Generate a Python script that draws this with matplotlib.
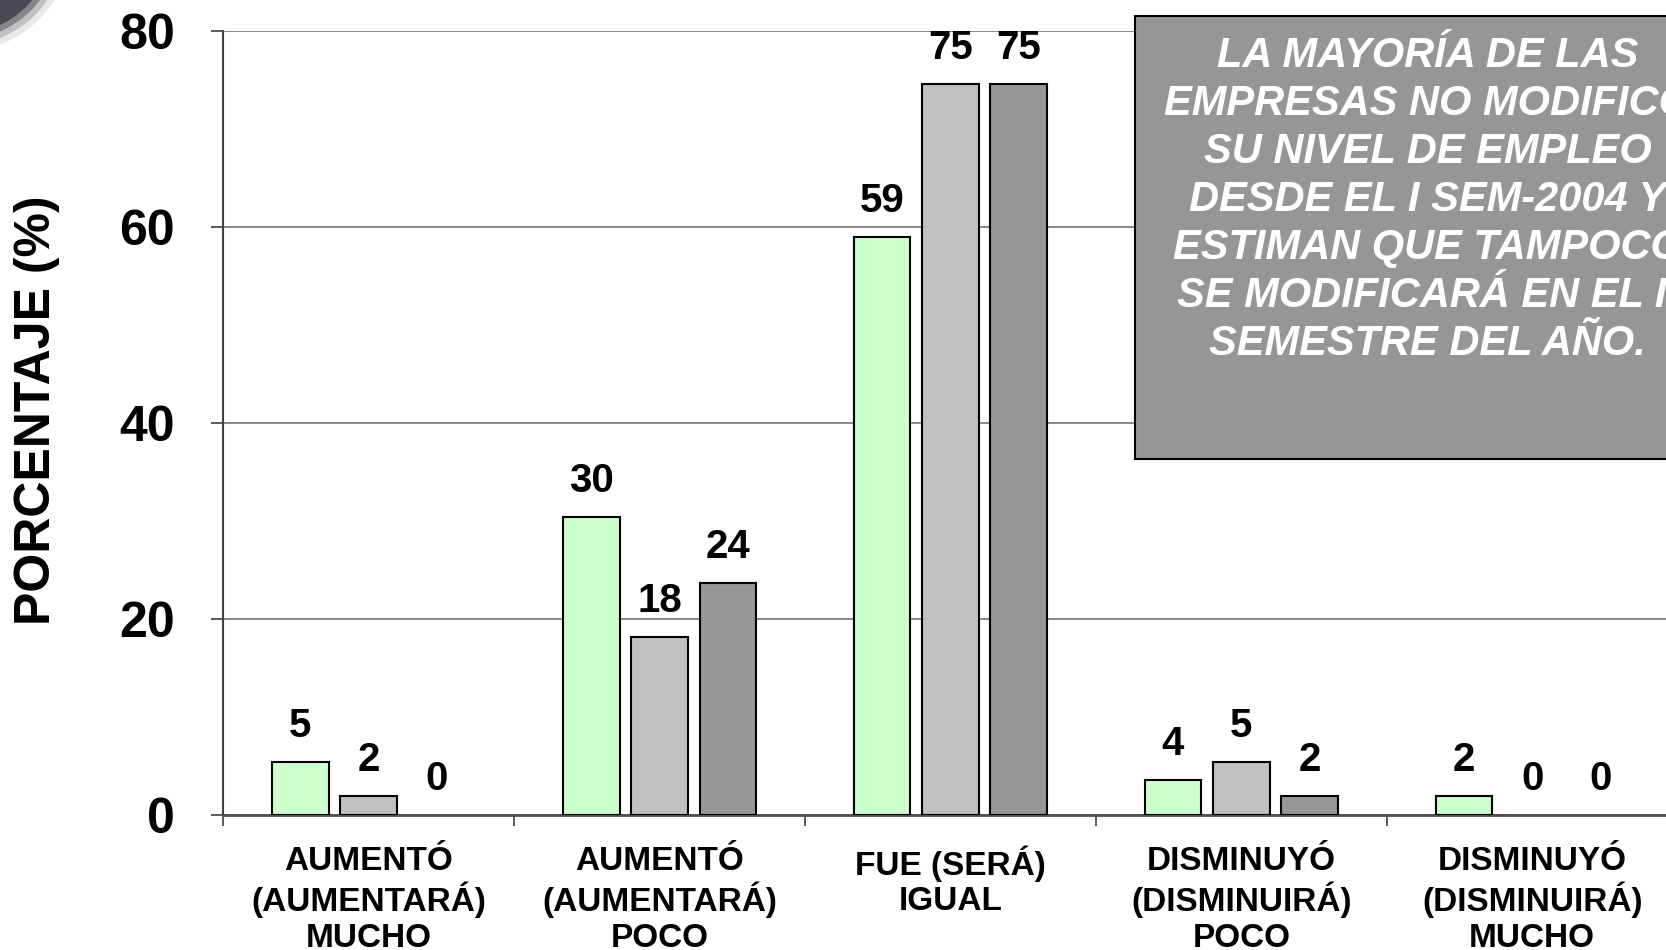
import matplotlib.pyplot as plt
import matplotlib.patches as mpatches
import numpy as np

plt.rcParams['font.family'] = ['Liberation Sans', 'DejaVu Sans']

categorias = ['AUMENTÓ\n(AUMENTARÁ)\nMUCHO', 'AUMENTÓ\n(AUMENTARÁ)\nPOCO', 'FUE (SERÁ)\nIGUAL',
              'DISMINUYÓ\n(DISMINUIRÁ)\nPOCO', 'DISMINUYÓ\n(DISMINUIRÁ)\nMUCHO']
serie_1 = [5.4, 30.4, 59.0, 3.6, 1.9]
serie_2 = [1.9, 18.2, 74.6, 5.4, 0.0]
serie_3 = [0.0, 23.7, 74.6, 1.9, 0.0]
colores = ['#CCFFCC', '#C0C0C0', '#969696']
nota = ('LA MAYORÍA DE LAS\nEMPRESAS NO MODIFICÓ\nSU NIVEL DE EMPLEO\n'
        'DESDE EL I SEM-2004 Y\nESTIMAN QUE TAMPOCO\nSE MODIFICARÁ EN EL II\nSEMESTRE DEL AÑO.')

fig = plt.figure(figsize=(16.66, 9.5), dpi=100)
ax = fig.add_axes([0.134, 0.142, 0.873, 0.825])

x = np.arange(len(categorias))
ancho = 0.195
paso = 0.235
for i, serie in enumerate([serie_1, serie_2, serie_3]):
    pos = x + (i - 1) * paso
    # las barras en cero no llevan borde
    bordes = [0 if v == 0 else 1.5 for v in serie]
    ax.bar(pos, serie, width=ancho, color=colores[i], edgecolor='black', linewidth=bordes, zorder=3)
    for xp, v in zip(pos, serie):
        ax.annotate(f'{v:.0f}', (xp, v), xytext=(0, 18), textcoords='offset points',
                    ha='center', va='baseline', fontsize=29, fontweight='bold', zorder=4)

ax.set_xlim(-0.5, 4.5)
ax.set_ylim(0, 80)
ax.set_yticks([0, 20, 40, 60, 80])
ax.tick_params(axis='y', labelsize=36, length=9, width=1.2, pad=26, color='#404040')
for t in ax.get_yticklabels():
    t.set_fontweight('bold')

ax.set_xticks(x)
ax.set_xticklabels(categorias, fontsize=24, fontweight='bold', linespacing=1.18)
ax.tick_params(axis='x', which='major', length=0, pad=22)
ax.set_xticks(np.arange(-0.5, 5, 1), minor=True)
ax.tick_params(axis='x', which='minor', length=8, width=1.2, color='#404040')

ax.yaxis.grid(True, color='#808080', linewidth=1.3, zorder=0)
ax.set_axisbelow(True)
for s in ['top', 'right']:
    ax.spines[s].set_visible(False)
ax.spines['left'].set_color('#404040')
ax.spines['left'].set_linewidth(1.5)
ax.spines['bottom'].set_color('#505050')
ax.spines['bottom'].set_linewidth(2)

ax.set_ylabel('PORCENTAJE (%)', fontsize=36, fontweight='bold')
ax.yaxis.set_label_coords(-0.112, 0.517)

# recuadro con la nota
caja = mpatches.Rectangle((0.681, 0.517), 0.35, 0.466, transform=fig.transFigure,
                          facecolor='#969696', edgecolor='black', linewidth=1.5, zorder=5)
fig.patches.append(caja)
fig.text(0.857, 0.962, nota, ha='center', va='top', color='white', fontsize=30,
         fontweight='bold', fontstyle='italic', linespacing=1.26, zorder=6)

# adorno de la esquina
for r, a in [(112, 0.12), (106, 0.25), (100, 0.5), (94, 1.0)]:
    fig.patches.append(mpatches.Circle((-40, 1010), r, transform=None,
                                       facecolor='#4a4a52', edgecolor='none', alpha=a, zorder=1))

fig.savefig('out.png', dpi=100)
